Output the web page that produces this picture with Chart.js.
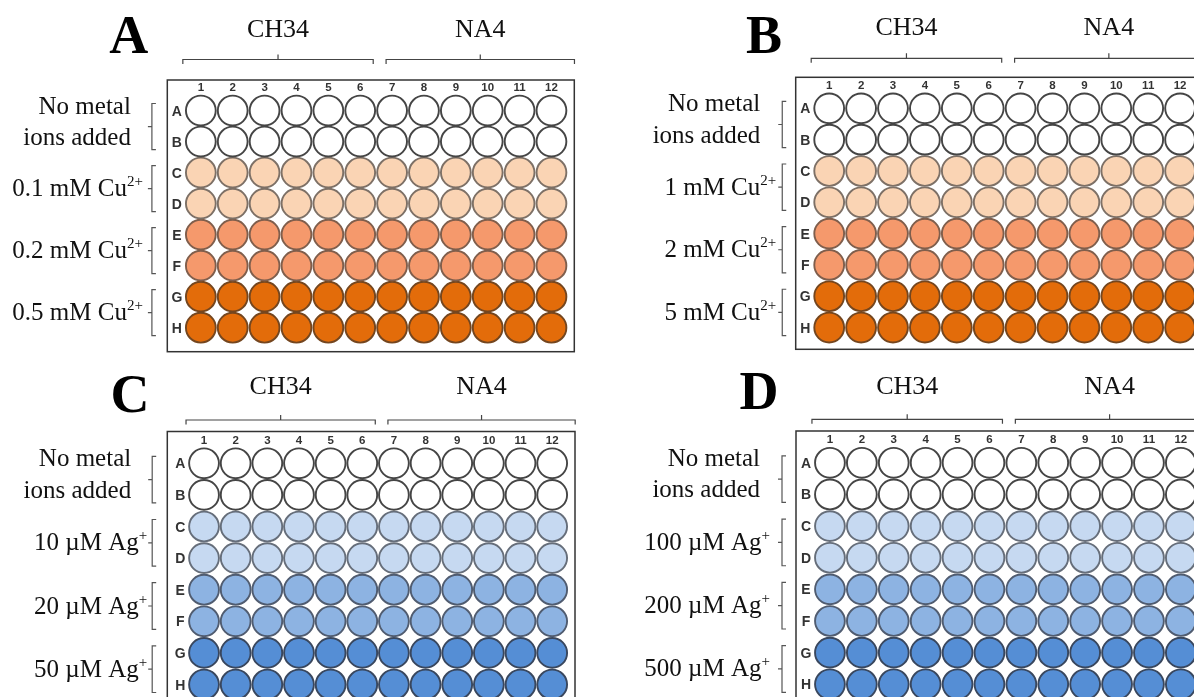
<!DOCTYPE html>
<html>
<head>
<meta charset="utf-8">
<script src="https://cdn.jsdelivr.net/npm/chart.js@4.4.1/dist/chart.umd.min.js"></script>
<style>
html, body { margin: 0; padding: 0; background: #fff; width: 1194px; height: 697px; overflow: hidden; position: relative; }
.plate { position: absolute; }
canvas { display: block; }
</style>
</head>
<body>
<div class="plate" style="left:0;top:0"><canvas id="cA" width="600" height="360" style="width:600px;height:360px"></canvas></div>
<div class="plate" style="left:600px;top:0"><canvas id="cB" width="640" height="360" style="width:640px;height:360px"></canvas></div>
<div class="plate" style="left:0;top:360px"><canvas id="cC" width="600" height="360" style="width:600px;height:360px"></canvas></div>
<div class="plate" style="left:600px;top:360px"><canvas id="cD" width="640" height="360" style="width:640px;height:360px"></canvas></div>
<script>
// plate layout + labels
const rows = ['A', 'B', 'C', 'D', 'E', 'F', 'G', 'H'];
const cols = [1, 2, 3, 4, 5, 6, 7, 8, 9, 10, 11, 12];
const rowGroup = [0, 0, 1, 1, 2, 2, 3, 3]; // 0 = no metal, 1..3 = low..high
const strains = ['CH34', 'NA4'];
const strainCols = [[1, 6], [7, 12]];
const panels = ['A', 'B', 'C', 'D'];
const controlLabel = ['No metal', 'ions added'];
const cuLowConc = ['0.1 mM Cu', '0.2 mM Cu', '0.5 mM Cu'];
const cuHighConc = ['1 mM Cu', '2 mM Cu', '5 mM Cu'];
const agLowConc = ['10 µM Ag', '20 µM Ag', '50 µM Ag'];
const agHighConc = ['100 µM Ag', '200 µM Ag', '500 µM Ag'];
const cuCharge = '2+';
const agCharge = '+';

// colours
const palettes = {
    cu: { fill: ['#ffffff', '#fad4b4', '#f5996c', '#e36c0a'], line: ['#454545', '#7d7066', '#7f5e4c', '#74461f'] },
    ag: { fill: ['#ffffff', '#c6d9f1', '#8db3e2', '#558ed5'], line: ['#454545', '#666e7a', '#505c70', '#39475e'] }
};

const SERIF = '"Liberation Serif", "Times New Roman", serif';
const SANS = '"Liberation Sans", Arial, sans-serif';

// where each plate sits inside its canvas
const plates = [
    { id: 'cA', panel: 0, conc: cuLowConc, charge: cuCharge, pal: 'cu',
      pad: { left: 184.9, right: 32.6, top: 95, bottom: 12.5 },
      box: { l: 167.3, t: 80, r: 574.3, b: 351.7 },
      letter: { x: 128.7, y: 53.3 }, titleY: 37, brY: 59.5,
      ctrlRight: -54, concRight: -42, brX: -33 },
    { id: 'cB', panel: 1, conc: cuHighConc, charge: cuCharge, pal: 'cu',
      pad: { left: 213.25, right: 43.95, top: 92.7, bottom: 14.2 },
      box: { l: 195.7, t: 77.3, r: 603, b: 349.3 },
      letter: { x: 164, y: 53.3 }, titleY: 34.5, brY: 58.3,
      ctrlRight: -53, concRight: -37, brX: -31 },
    { id: 'cC', panel: 2, conc: agLowConc, charge: agCharge, pal: 'ag',
      pad: { left: 188.2, right: 32, top: 87.5, bottom: 19.7 },
      box: { l: 167.3, t: 71.5, r: 575, b: 400 },
      letter: { x: 130, y: 51.7 }, titleY: 33.5, brY: 60,
      ctrlRight: -57, concRight: -41, brX: -36 },
    { id: 'cD', panel: 3, conc: agHighConc, charge: agCharge, pal: 'ag',
      pad: { left: 214, right: 43.2, top: 87, bottom: 19.9 },
      box: { l: 196, t: 71, r: 603, b: 400 },
      letter: { x: 159, y: 49 }, titleY: 33.5, brY: 59.3,
      ctrlRight: -54, concRight: -44, brX: -32 }
];

function supText(ctx, base, sup, right, y) {
    ctx.font = '25px ' + SERIF;
    const wb = ctx.measureText(base).width;
    ctx.font = '15px ' + SERIF;
    const ws = ctx.measureText(sup).width;
    const x0 = right - wb - ws;
    ctx.textAlign = 'left';
    ctx.font = '25px ' + SERIF;
    ctx.fillText(base, x0, y);
    ctx.font = '15px ' + SERIF;
    ctx.fillText(sup, x0 + wb, y - 10);
}

const platePlugin = {
    id: 'plate',
    beforeDatasetsDraw(chart, args, cfg) {
        const ctx = chart.ctx, b = cfg.box;
        ctx.save();
        ctx.strokeStyle = '#333';
        ctx.lineWidth = 1.5;
        ctx.strokeRect(b.l, b.t, b.r - b.l, b.b - b.t);
        ctx.restore();
    },
    afterDraw(chart, args, cfg) {
        const ctx = chart.ctx;
        const xs = chart.scales.x, ys = chart.scales.y;
        const area = chart.chartArea;
        const X = v => xs.getPixelForValue(v);
        const Y = v => ys.getPixelForValue(v);
        ctx.save();

        // column numbers + row letters
        ctx.fillStyle = '#333';
        ctx.textAlign = 'center';
        ctx.font = 'bold 11.5px ' + SANS;
        cols.forEach(c => ctx.fillText(String(c), X(c), area.top - 4));
        ctx.font = 'bold 14px ' + SANS;
        rows.forEach((r, i) => ctx.fillText(r, area.left - 8, Y(i + 1) + 5));

        // panel letter
        ctx.fillStyle = '#000';
        ctx.font = 'bold 54px ' + SERIF;
        ctx.fillText(panels[cfg.panel], cfg.letter.x, cfg.letter.y);

        // strain headers with brackets
        ctx.strokeStyle = '#444';
        ctx.lineWidth = 1.2;
        strains.forEach((s, i) => {
            const [c0, c1] = strainCols[i];
            const x0 = i === 0 ? X(c0) - 18 : X(c0) - 6;
            const x1 = i === 0 ? X(c1) + 13 : X(c1) + 23;
            const mid = (x0 + x1) / 2, y = cfg.brY;
            ctx.beginPath();
            ctx.moveTo(x0, y + 4.5); ctx.lineTo(x0, y); ctx.lineTo(x1, y); ctx.lineTo(x1, y + 4.5);
            ctx.moveTo(mid, y); ctx.lineTo(mid, y - 5);
            ctx.stroke();
            ctx.fillStyle = '#111';
            ctx.font = '26px ' + SERIF;
            ctx.textAlign = 'center';
            ctx.fillText(s, mid, cfg.titleY);
        });

        // row group labels
        const bx = area.left + cfg.brX;
        for (let g = 0; g < 4; g++) {
            const ra = g * 2 + 1, rb = g * 2 + 2;
            const y1 = Y(ra) - 7, y2 = Y(rb) + 8, ym = (y1 + y2) / 2;
            ctx.strokeStyle = '#555';
            ctx.beginPath();
            ctx.moveTo(bx + 4, y1); ctx.lineTo(bx, y1); ctx.lineTo(bx, y2); ctx.lineTo(bx + 4, y2);
            ctx.moveTo(bx, ym); ctx.lineTo(bx - 4, ym);
            ctx.stroke();
            ctx.fillStyle = '#111';
            if (g === 0) {
                ctx.font = '25px ' + SERIF;
                ctx.textAlign = 'right';
                ctx.fillText(controlLabel[0], area.left + cfg.ctrlRight, Y(ra) + 3);
                ctx.fillText(controlLabel[1], area.left + cfg.ctrlRight, Y(rb) + 3);
            } else {
                supText(ctx, cfg.conc[g - 1], cfg.charge, area.left + cfg.concRight, (Y(ra) + Y(rb)) / 2 + 8);
            }
        }
        ctx.restore();
    }
};

function wellData(level) {
    const pts = [];
    rows.forEach((r, i) => {
        if (rowGroup[i] !== level) return;
        cols.forEach(c => pts.push({ x: c, y: i + 1 }));
    });
    return pts;
}

plates.forEach(p => {
    const pal = palettes[p.pal];
    new Chart(document.getElementById(p.id), {
        type: 'scatter',
        data: {
            datasets: [0, 1, 2, 3].map(lv => ({
                data: wellData(lv),
                pointRadius: 14.9,
                pointHoverRadius: 14.9,
                pointBorderWidth: 1.9,
                pointBackgroundColor: pal.fill[lv],
                pointBorderColor: pal.line[lv],
                clip: false
            }))
        },
        options: {
            responsive: false,
            animation: false,
            devicePixelRatio: 1,
            layout: { padding: p.pad },
            scales: {
                x: { type: 'linear', min: 0.5, max: 12.5, display: false },
                y: { type: 'linear', min: 0.5, max: 8.5, reverse: true, display: false }
            },
            plugins: { legend: { display: false }, tooltip: { enabled: false }, plate: p },
            events: []
        },
        plugins: [platePlugin]
    });
});
</script>
</body>
</html>
